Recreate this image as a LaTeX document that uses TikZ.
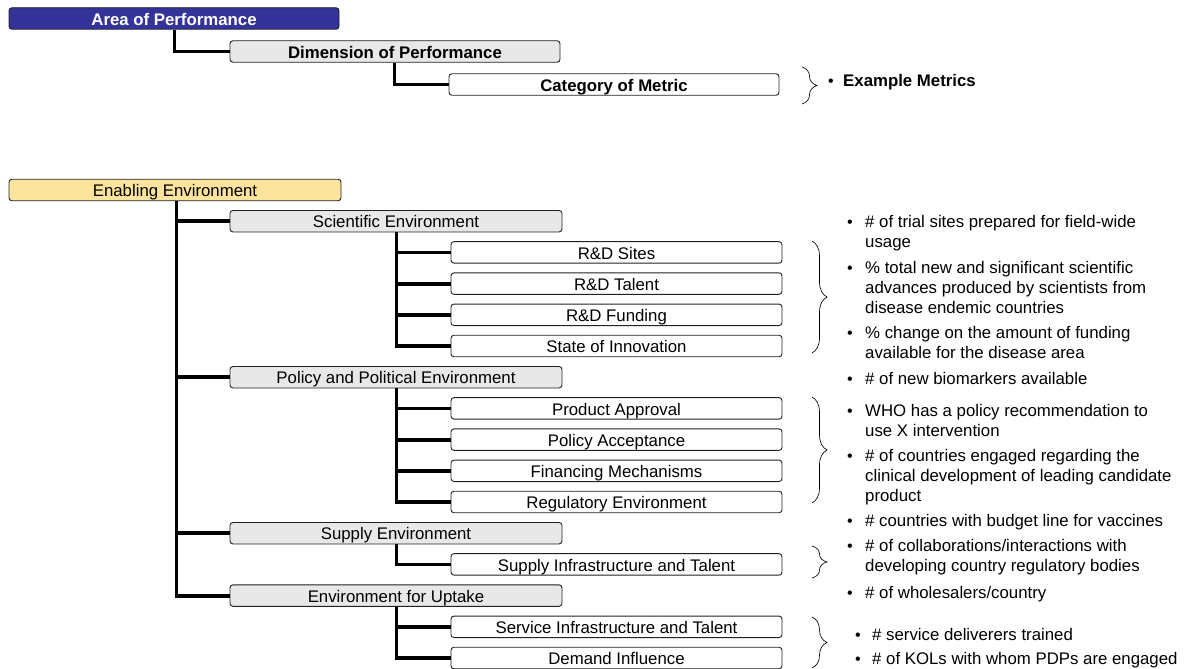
\documentclass[tikz,border=0pt]{standalone}
\usepackage{fontspec}
\setmainfont{Liberation Sans}
\usetikzlibrary{decorations.pathreplacing}

\definecolor{areablue}{HTML}{333399}
\definecolor{enablegold}{HTML}{FCE49C}
\definecolor{dimgray}{HTML}{E8E8E8}
\definecolor{edge}{HTML}{222222}

\newcommand{\blt}{{\fontsize{16}{16}\selectfont\mdseries •}}

\begin{document}
\begin{tikzpicture}[x=1pt,y=-1pt,
  every node/.style={font=\fontsize{16.8}{20}\selectfont},
  box/.style={draw=edge, line width=0.9pt, rounded corners=3pt, minimum height=21.5pt,
              inner sep=0pt, text height=13.4pt, text depth=0pt},
  lvlone/.style={box, minimum width=332pt},
  lvltwo/.style={box, fill=dimgray, minimum width=332pt},
  lvlthree/.style={box, fill=white, minimum width=331pt},
  conn/.style={line width=3.8pt, black},
  brc/.style={decorate, decoration={brace, amplitude=15pt}, line width=0.65pt},
  metric/.style={anchor=base west, inner sep=0pt}
]
\useasboundingbox (0,0) rectangle (1187,669);

% ---------- legend ----------
\node[lvlone, minimum width=330pt, fill=areablue, text=white, font=\fontsize{16.8}{20}\selectfont\bfseries]
  (area) at (174,18.5) {Area of Performance};
\node[lvltwo, minimum width=330pt, font=\fontsize{16.8}{20}\selectfont\bfseries]
  (dim) at (395,51.5) {Dimension of Performance};
\node[lvlthree, minimum width=330pt, font=\fontsize{16.8}{20}\selectfont\bfseries]
  (cat) at (614,84.5) {Category of Metric};

\draw[conn] ([xshift=166pt]area.south west) |- (dim.west);
\draw[conn] ([xshift=165pt]dim.south west) |- (cat.west);

\draw[brc] (802,67) -- (802,104);
\node[metric, font=\fontsize{16.8}{20}\selectfont\bfseries] (ex) at (828,87)
  {\makebox[15pt][l]{\blt}Example Metrics};

% ---------- hierarchy ----------
\node[lvlone, fill=enablegold] (en) at (175,190) {Enabling Environment};

\node[lvltwo] (sci) at (396,221.2) {Scientific Environment};
\node[lvlthree] (sites)  at (616.5,252.4) {R\&D Sites};
\node[lvlthree] (talent) at (616.5,283.6) {R\&D Talent};
\node[lvlthree] (fund)   at (616.5,314.8) {R\&D Funding};
\node[lvlthree] (innov)  at (616.5,346.0) {State of Innovation};

\node[lvltwo] (pol) at (396,377.2) {Policy and Political Environment};
\node[lvlthree] (appr) at (616.5,408.4) {Product Approval};
\node[lvlthree] (acc)  at (616.5,439.6) {Policy Acceptance};
\node[lvlthree] (fin)  at (616.5,470.8) {Financing Mechanisms};
\node[lvlthree] (reg)  at (616.5,502.0) {Regulatory Environment};

\node[lvltwo] (sup) at (396,533.2) {Supply Environment};
\node[lvlthree] (supinf) at (616.5,564.4) {Supply Infrastructure and Talent};

\node[lvltwo] (upt) at (396,595.6) {Environment for Uptake};
\node[lvlthree] (serv) at (616.5,626.8) {Service Infrastructure and Talent};
\node[lvlthree] (dem)  at (616.5,658.0) {Demand Influence};

% trunk and branches
\foreach \n in {sci,pol,sup,upt}
  \draw[conn] ([xshift=168pt]en.south west) |- (\n.west);
\foreach \n in {sites,talent,fund,innov}
  \draw[conn] ([xshift=167pt]sci.south west) |- (\n.west);
\foreach \n in {appr,acc,fin,reg}
  \draw[conn] ([xshift=167pt]pol.south west) |- (\n.west);
\draw[conn] ([xshift=167pt]sup.south west) |- (supinf.west);
\foreach \n in {serv,dem}
  \draw[conn] ([xshift=167pt]upt.south west) |- (\n.west);

% ---------- braces ----------
\draw[brc] (812,241) -- (812,353);
\draw[brc] (812,397) -- (812,503);
\draw[brc] (812,546) -- (812,578);
\draw[brc] (812,617) -- (812,668);

% ---------- example metrics ----------
\newcommand{\bitem}[3][18pt]{\begin{tabular}[t]{@{}l@{}l@{}}\makebox[#1][l]{\blt} & #2\\ & #3\end{tabular}}
\newcommand{\bone}[2][18pt]{\makebox[#1][l]{\blt}#2}

\node[metric] (m1) at (847,227) {\bitem{\# of trial sites prepared for field-wide}{usage}};
\node[metric] (m2) at (847,273) {\begin{tabular}[t]{@{}l@{}l@{}}\makebox[18pt][l]{\blt} & \% total new and significant scientific\\
  & advances produced by scientists from\\ & disease endemic countries\end{tabular}};
\node[metric] (m3) at (847,338) {\bitem{\% change on the amount of funding}{available for the disease area}};
\node[metric] (m4) at (847,384) {\bone{\# of new biomarkers available}};
\node[metric] (m5) at (847,416) {\bitem{WHO has a policy recommendation to}{use X intervention}};
\node[metric] (m6) at (847,461) {\begin{tabular}[t]{@{}l@{}l@{}}\makebox[18pt][l]{\blt} & \# of countries engaged regarding the\\
  & clinical development of leading candidate\\ & product\end{tabular}};
\node[metric] (m7) at (847,526) {\bone{\# countries with budget line for vaccines}};
\node[metric] (m8) at (847,551) {\bitem{\# of collaborations/interactions with}{developing country regulatory bodies}};
\node[metric] (m9) at (847,598) {\bone{\# of wholesalers/country}};
\node[metric] (m10) at (855,640) {\bone[17pt]{\# service deliverers trained}};
\node[metric] (m11) at (855,664) {\bone[17pt]{\# of KOLs with whom PDPs are engaged}};

\end{tikzpicture}
\end{document}
